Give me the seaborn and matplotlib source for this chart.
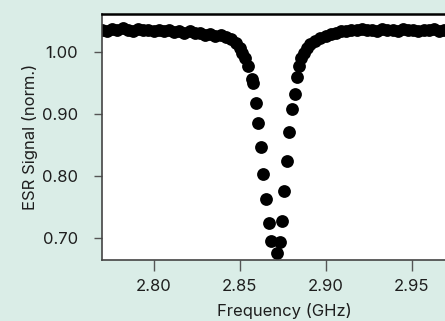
import numpy as np
import pandas as pd
import matplotlib.pyplot as plt
import seaborn as sns

# ESR sweep (frequency in GHz, signal normalised)
freq_left = [2.770, 2.773, 2.776, 2.779, 2.782, 2.785, 2.788, 2.791, 2.794, 2.797,
             2.800, 2.803, 2.806, 2.809, 2.812, 2.815, 2.818, 2.821, 2.824, 2.827,
             2.830, 2.833, 2.836, 2.839, 2.842, 2.845, 2.848, 2.850, 2.8515, 2.853]
signal_left = [1.036, 1.034, 1.037, 1.035, 1.038, 1.036, 1.034, 1.037, 1.035, 1.036,
               1.034, 1.036, 1.033, 1.035, 1.032, 1.034, 1.031, 1.033, 1.030, 1.031,
               1.028, 1.029, 1.026, 1.027, 1.024, 1.021, 1.014, 1.006, 0.999, 0.990]

freq_dip = [2.8551, 2.8571, 2.8580, 2.8596, 2.8609, 2.8623, 2.8638, 2.8654, 2.8670,
            2.8683, 2.8715, 2.8735, 2.8747, 2.8760, 2.8774, 2.8789, 2.8805, 2.8820,
            2.8832, 2.8847]
signal_dip = [0.978, 0.957, 0.949, 0.918, 0.886, 0.846, 0.803, 0.762, 0.724,
              0.695, 0.675, 0.693, 0.727, 0.775, 0.824, 0.871, 0.908, 0.932,
              0.959, 0.978]

freq_right = [2.886, 2.8875, 2.889, 2.891, 2.894, 2.897, 2.900, 2.903, 2.906, 2.909,
              2.912, 2.915, 2.918, 2.921, 2.924, 2.927, 2.930, 2.933, 2.936, 2.939,
              2.942, 2.945, 2.948, 2.951, 2.954, 2.957, 2.960, 2.963, 2.966, 2.969,
              2.972, 2.975, 2.978, 2.981]
signal_right = [0.990, 0.999, 1.006, 1.012, 1.017, 1.022, 1.026, 1.029, 1.031, 1.033,
                1.034, 1.036, 1.035, 1.037, 1.035, 1.036, 1.034, 1.037, 1.035, 1.036,
                1.034, 1.037, 1.035, 1.036, 1.034, 1.036, 1.035, 1.037, 1.034, 1.035,
                1.036, 1.034, 1.036, 1.035]

x_ticks = [2.80, 2.85, 2.90, 2.95]
y_ticks = [0.70, 0.80, 0.90, 1.00]

bg = '#daede7'
text_col = '#1e1e1e'

sns.set_style('white')
plt.rcParams['font.family'] = ['Inter', 'DejaVu Sans']
plt.rcParams['font.size'] = 12

df = pd.DataFrame({
    'freq': freq_left + freq_dip + freq_right,
    'signal': signal_left + signal_dip + signal_right,
})

fig = plt.figure(figsize=(4.45, 3.21), dpi=100, facecolor=bg)
# axes run past the right edge of the figure, as in the original crop
ax = fig.add_axes([0.229, 0.19, 0.818, 0.766])
ax.set_facecolor('white')

sns.scatterplot(data=df, x='freq', y='signal', color='black', s=85,
                linewidth=0, ax=ax)

ax.set_xlim(2.770, 2.9816)
ax.set_ylim(0.664, 1.061)
ax.set_xticks(x_ticks)
ax.set_xticklabels([f'{v:.2f}' for v in x_ticks])
ax.set_yticks(y_ticks)
ax.set_yticklabels([f'{v:.2f}' for v in y_ticks])

ax.set_xlabel('Frequency (GHz)', color=text_col, fontsize=12, labelpad=6)
ax.set_ylabel('ESR Signal (norm.)', color=text_col, fontsize=12, labelpad=3)

ax.tick_params(axis='x', direction='out', length=8, width=1, color='#555555',
               labelcolor=text_col, labelsize=12, pad=6, bottom=True)
ax.tick_params(axis='y', direction='out', length=6, width=1, color='#555555',
               labelcolor=text_col, labelsize=12, pad=11, left=True)

for side in ['left', 'bottom']:
    ax.spines[side].set_color('#444444')
    ax.spines[side].set_linewidth(1.2)
ax.spines['top'].set_color('black')
ax.spines['top'].set_linewidth(1.8)
ax.spines['right'].set_visible(False)

fig.savefig('out.png', dpi=100, facecolor=bg)
